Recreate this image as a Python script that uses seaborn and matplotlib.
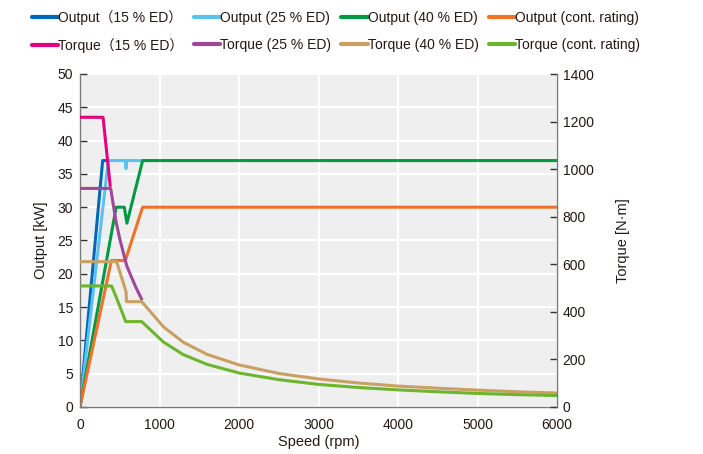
import matplotlib
matplotlib.use("Agg")
import matplotlib.pyplot as plt
import seaborn as sns
import pandas as pd

sns.set_style("white")
plt.rcParams['font.family'] = ['Liberation Sans', 'Noto Sans CJK JP', 'DejaVu Sans']

# ---- data (speed in rpm, output in kW, torque in N·m) ----
out15_speed = [0, 285, 360]
out15_kw = [0, 37, 37]
out25_speed = [0, 356, 570, 579, 588, 788]
out25_kw = [0, 37, 37, 35.8, 37, 37]
out40_speed = [0, 455, 557, 590, 788, 6000]
out40_kw = [0, 30, 30, 27.6, 37, 37]
outc_speed = [0, 395, 570, 788, 6000]
outc_kw = [0, 22, 22, 30, 30]

tq15_speed = [0, 290, 380]
tq15_nm = [1218, 1218, 930]
tq25_speed = [0, 386, 450, 500, 587, 650, 700, 776]
tq25_nm = [919, 919, 785, 707, 595, 544, 505, 453]
tq40_speed = [0, 461, 579, 585, 776, 1050, 1300, 1600, 2000, 2500, 3000, 3500, 4000, 4500, 5000, 5500, 6000]
tq40_nm = [611, 611, 485, 443, 443, 337, 272, 221, 177, 141, 118, 101, 88, 79, 71, 64, 59]
tqc_speed = [0, 398, 503, 575, 776, 1050, 1300, 1600, 2000, 2500, 3000, 3500, 4000, 4500, 5000, 5500, 6000]
tqc_nm = [509, 509, 422, 359, 359, 273, 220, 179, 143, 115, 95, 82, 72, 64, 57, 52, 48]

out_labels = ["Output（15 % ED）", "Output (25 % ED)", "Output (40 % ED)", "Output (cont. rating)"]
tq_labels = ["Torque（15 % ED）", "Torque (25 % ED)", "Torque (40 % ED)", "Torque (cont. rating)"]
out_colors = ["#0068b7", "#5bc2ef", "#009a44", "#f07226"]
tq_colors = ["#e4007f", "#a0479a", "#c9a063", "#6cb52d"]

x_ticks = [0, 1000, 2000, 3000, 4000, 5000, 6000]
kw_ticks = [0, 5, 10, 15, 20, 25, 30, 35, 40, 45, 50]
nm_ticks = [0, 200, 400, 600, 800, 1000, 1200, 1400]

fig = plt.figure(figsize=(7.03, 4.54), dpi=100)
ax = fig.add_axes([80/703, 1-407/454, (557-80)/703, (407-74)/454])
ax2 = ax.twinx()

lw = 2.2
out_series = [(out15_speed, out15_kw), (out25_speed, out25_kw), (out40_speed, out40_kw), (outc_speed, outc_kw)]
tq_series = [(tq15_speed, tq15_nm), (tq25_speed, tq25_nm), (tq40_speed, tq40_nm), (tqc_speed, tqc_nm)]

out_handles = []
for (xs, ys), lab, col in zip(out_series, out_labels, out_colors):
    df = pd.DataFrame({"speed": xs, "val": ys})
    sns.lineplot(data=df, x="speed", y="val", ax=ax, color=col, linewidth=lw,
                 estimator=None, sort=False, legend=False)
    out_handles.append(ax.get_lines()[-1])
tq_handles = []
for (xs, ys), lab, col in zip(tq_series, tq_labels, tq_colors):
    df = pd.DataFrame({"speed": xs, "val": ys})
    sns.lineplot(data=df, x="speed", y="val", ax=ax2, color=col, linewidth=lw,
                 estimator=None, sort=False, legend=False)
    tq_handles.append(ax2.get_lines()[-1])

ax.set_facecolor("#efefef")
ax2.set_facecolor("none")
ax.set_xlim(0, 6000)
ax.set_ylim(0, 50)
ax2.set_ylim(0, 1400)
ax.set_xticks(x_ticks)
ax.set_yticks(kw_ticks)
ax2.set_yticks(nm_ticks)
ax.grid(True, color="white", linewidth=1.6)
ax.set_axisbelow(True)
ax2.grid(False)

txt = "#231815"
spc = "#7a7a7a"
for a in (ax, ax2):
    for s in a.spines.values():
        s.set_color(spc)
        s.set_linewidth(1.0)
    a.spines["top"].set_visible(False)
ax.spines["right"].set_visible(False)
ax2.spines["left"].set_visible(False)
ax2.spines["bottom"].set_visible(False)

ax.tick_params(axis="both", direction="in", length=5, width=1, color="#333333",
               labelsize=10, labelcolor=txt, pad=5)
ax.tick_params(axis="x", pad=8)
ax2.tick_params(axis="y", direction="in", length=5, width=1, color="#333333",
                labelsize=10, labelcolor=txt, pad=4)

ax.set_xlabel("Speed (rpm)", fontsize=10.5, color=txt, labelpad=2)
ax.set_ylabel("Output [kW]", fontsize=10.5, color=txt, labelpad=7)
ax2.set_ylabel("Torque [N·m]", fontsize=10.5, color=txt, labelpad=16)

handles, labels = [], []
for i in range(4):
    handles += [out_handles[i], tq_handles[i]]
    labels += [out_labels[i], tq_labels[i]]
fig.legend(handles, labels, ncol=4, loc="upper center", bbox_to_anchor=(0.478, 1.0),
           frameon=False, fontsize=10, handlelength=1.9, handletextpad=0.0,
           columnspacing=0.75, labelspacing=0.95, borderaxespad=0.3,
           labelcolor=txt)
for h in fig.legends[0].legend_handles:
    h.set_linewidth(3)

fig.savefig("out.png", dpi=100)
